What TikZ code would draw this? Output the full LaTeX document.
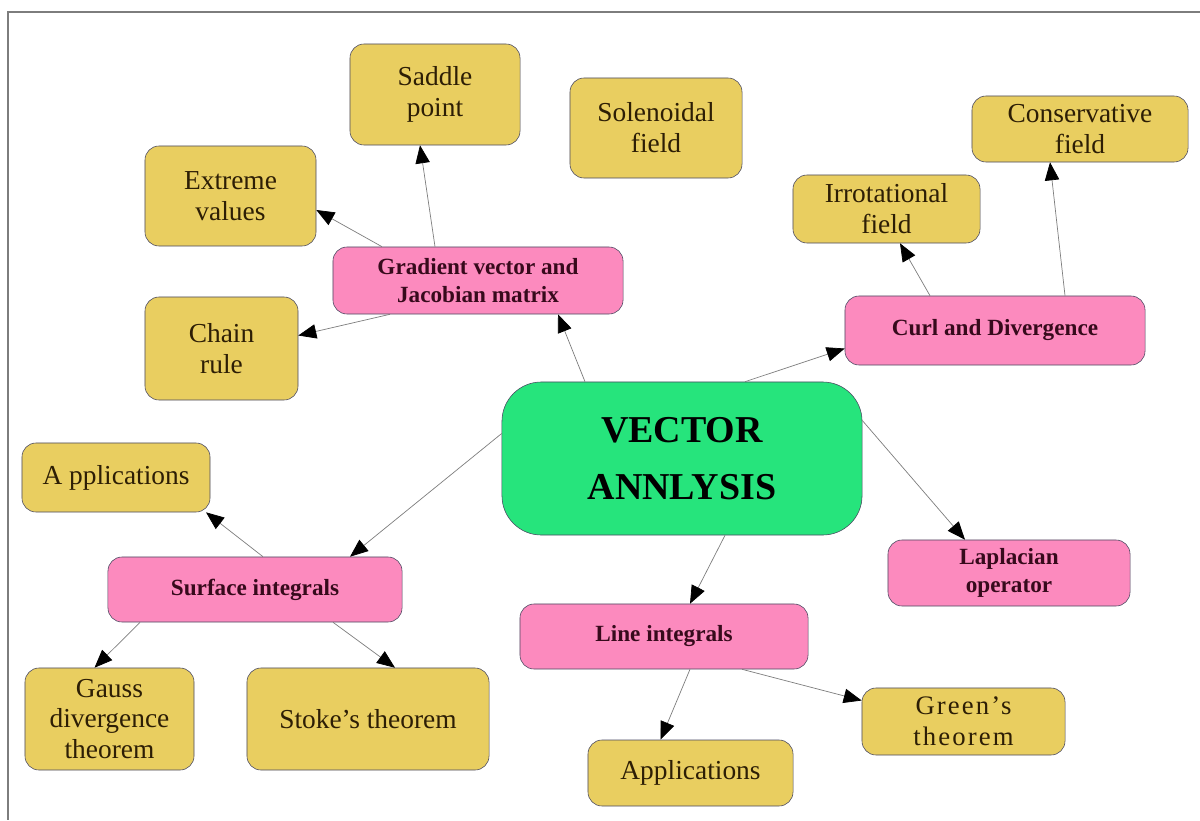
\documentclass[tikz,border=0pt]{standalone}
\usepackage{fontspec}
\setmainfont{Liberation Serif}
\usetikzlibrary{shapes,arrows,arrows.meta,calc}
\definecolor{leafyellow}{RGB}{233,206,96}
\definecolor{topicpink}{RGB}{252,138,190}
\definecolor{rootgreen}{RGB}{38,228,124}
\definecolor{boxedge}{RGB}{72,72,96}
\definecolor{linkgray}{RGB}{125,125,125}
\definecolor{leaftext}{RGB}{45,30,5}
\definecolor{topictext}{RGB}{55,10,28}
\tikzset{
  leaf/.style={draw=boxedge, fill=leafyellow, rounded corners=10, align=center, inner sep=0pt,
    text=leaftext, font=\fontsize{19.5}{22}\selectfont},
  topic/.style={draw=boxedge, fill=topicpink, rounded corners=10, align=center, inner sep=0pt,
    text=topictext, font=\fontsize{16.5}{20}\selectfont\bfseries},
  root/.style={draw=boxedge, fill=rootgreen, rounded corners=28, align=center, inner sep=0pt,
    text=black, font=\fontsize{27}{40}\selectfont\bfseries},
  link/.style={->, draw=linkgray, line width=0.5pt},
  >={Triangle[length=0.45cm,width=0.36cm,black]}
}
\begin{document}
\begin{tikzpicture}[x=0.025cm,y=-0.025cm]
    \useasboundingbox (0,0) rectangle (1200,820);
    %Frame
    \draw[linkgray, line width=0.8pt] (1200,12) -- (8,12) -- (8,820);
    %Centre
    \node[root, minimum width=9cm, minimum height=3.825cm] (vec) at (682,458.5) {VECTOR\\ANNLYSIS};
    %Gradient
    \node[topic, minimum width=7.25cm, minimum height=1.675cm] (grad) at (478,280.5) {Gradient vector and\\Jacobian matrix};
    \node[leaf, minimum width=4.25cm, minimum height=2.525cm] (saddle) at (435,94.5) {Saddle\\point};
    \node[leaf, minimum width=4.275cm, minimum height=2.5cm] (extreme) at (230.5,196) {Extreme\\values};
    \node[leaf, minimum width=3.825cm, minimum height=2.575cm] (chain) at (221.5,348.5) {Chain\\rule};
    \node[leaf, minimum width=4.3cm, minimum height=2.5cm] (solen) at (656,128) {Solenoidal\\field};
    %Curl and divergence
    \node[topic, minimum width=7.5cm, minimum height=1.725cm] (curl) at (995,330.5) {Curl and Divergence};
    \node[leaf, minimum width=4.675cm, minimum height=1.7cm] (irrot) at (886.5,209) {Irrotational\\field};
    \node[leaf, minimum width=5.4cm, minimum height=1.65cm] (conserv) at (1080,129) {Conservative\\field};
    %Surface integrals
    \node[topic, minimum width=7.35cm, minimum height=1.625cm] (surf) at (255,589.5) {Surface integrals};
    \node[leaf, minimum width=4.7cm, minimum height=1.725cm] (surfapp) at (116,477.5) {A pplications};
    \node[leaf, minimum width=4.225cm, minimum height=2.55cm] (gauss) at (109.5,719) {Gauss\\divergence\\theorem};
    \node[leaf, minimum width=6.05cm, minimum height=2.55cm] (stoke) at (368,719) {Stoke’s theorem};
    %Line integrals
    \node[topic, minimum width=7.2cm, minimum height=1.625cm] (line) at (664,636.5) {Line integrals};
    \node[leaf, minimum width=5.125cm, minimum height=1.65cm] (lineapp) at (690.5,773) {Applications};
    \node[leaf, minimum width=5.075cm, minimum height=1.675cm, font=\fontsize{19}{22}\selectfont\addfontfeature{LetterSpace=8}] (green) at (963.5,721.5) {Green’s\\theorem};
    %Laplacian
    \node[topic, minimum width=6.05cm, minimum height=1.65cm] (lap) at (1009,573) {Laplacian\\operator};
    %Links
    \draw[link] ($(vec.north)+(-97,0)$) -- ($(grad.south)+(80,0)$);
    \draw[link] ($(grad.north)+(-43,0)$) -- ($(saddle.south)+(-15,0)$);
    \draw[link] ($(grad.north)+(-96,0)$) -- ($(extreme.east)+(0,14)$);
    \draw[link] ($(grad.south)+(-88,0)$) -- ($(chain.east)+(0,-13)$);
    \draw[link] ($(vec.north)+(63,0)$) -- ($(curl.west)+(0,18)$);
    \draw[link] ($(curl.north)+(-65,0)$) -- ($(irrot.south)+(13.5,0)$);
    \draw[link] ($(curl.north)+(70,0)$) -- ($(conserv.south)+(-30,0)$);
    \draw[link] ($(vec.west)+(0,-25)$) -- ($(surf.north)+(95,0)$);
    \draw[link] ($(surf.north)+(8,0)$) -- ($(surfapp.south)+(90,0)$);
    \draw[link] ($(surf.south)+(-115,0)$) -- ($(gauss.north)+(-15,0)$);
    \draw[link] ($(surf.south)+(78,0)$) -- ($(stoke.north)+(27,0)$);
    \draw[link] ($(vec.east)+(0,-38)$) -- ($(lap.north)+(-44,0)$);
    \draw[link] ($(vec.south)+(43,0)$) -- ($(line.north)+(26,0)$);
    \draw[link] ($(line.south)+(26,0)$) -- ($(lineapp.north)+(-30,0)$);
    \draw[link] ($(line.south)+(78,0)$) -- ($(green.west)+(0,-21)$);
\end{tikzpicture}
\end{document}
